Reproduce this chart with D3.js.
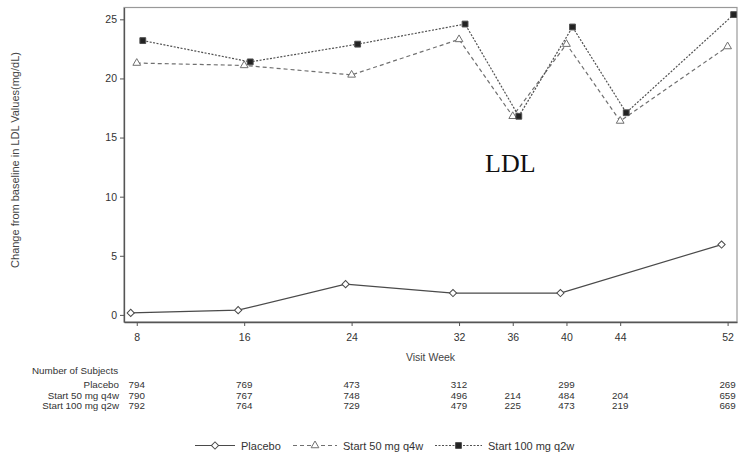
<!doctype html>
<html>
<head>
<meta charset="utf-8">
<script src="https://d3js.org/d3.v7.min.js"></script>
<style>
  body { margin: 0; background: #fff; }
  svg { font-family: "Liberation Sans", Arial, sans-serif; }
  .tick text { fill: #333; font-size: 10.5px; }
  .tick line { stroke: #555; }
</style>
</head>
<body>
<svg width="739" height="457"></svg>
<script>
// visit weeks on the x axis
var weeks = [8, 16, 24, 32, 36, 40, 44, 52];
var yTicks = [0, 5, 10, 15, 20, 25];

// mean change from baseline (mg/dL)
var placeboWeeks = [8, 16, 24, 32, 40, 52];
var placebo = [0.17, 0.4, 2.6, 1.85, 1.85, 5.95];
var start50 = [21.3, 21.1, 20.3, 23.3, 16.8, 22.9, 16.4, 22.7];
var start100 = [23.2, 21.4, 22.9, 24.6, 16.8, 24.35, 17.1, 25.4];

// number of subjects table
var rowLabels = ["Placebo", "Start 50 mg q4w", "Start 100 mg q2w"];
var nPlacebo = [794, 769, 473, 312, null, 299, null, 269];
var n50 = [790, 767, 748, 496, 214, 484, 204, 659];
var n100 = [792, 764, 729, 479, 225, 473, 219, 669];

var svg = d3.select("svg");
var pLeft = 124, pRight = 737, pTop = 7.5, pBottom = 322;

var xScale = d3.scaleLinear().domain([7.05, 52.7]).range([pLeft, pRight]);
var yScale = d3.scaleLinear().domain([-0.6, 26.0]).range([pBottom, pTop]);

// frame
svg.append("rect")
  .attr("x", pLeft).attr("y", pTop)
  .attr("width", pRight - pLeft).attr("height", pBottom - pTop)
  .attr("fill", "none").attr("stroke", "#999").attr("stroke-width", 1.2);

var xAxis = d3.axisBottom(xScale).tickValues(weeks).tickSize(4).tickSizeOuter(0);
var xg = svg.append("g").attr("transform", "translate(0," + pBottom + ")").call(xAxis);
xg.select(".domain").attr("stroke", "#555").attr("stroke-width", 1.3);
xg.selectAll(".tick text").attr("dy", "1.15em");

var yAxis = d3.axisLeft(yScale).tickValues(yTicks).tickSize(4).tickSizeOuter(0);
var yg = svg.append("g").attr("transform", "translate(" + pLeft + ",0)").call(yAxis);
yg.select(".domain").attr("stroke", "#555").attr("stroke-width", 1.3);
yg.selectAll(".tick text").attr("x", -7);

// axis titles
svg.append("text")
  .attr("transform", "translate(18.5,160) rotate(-90)")
  .attr("text-anchor", "middle")
  .style("font-size", "11px").attr("fill", "#444")
  .text("Change from baseline in LDL Values(mg/dL)");

svg.append("text")
  .attr("x", (pLeft + pRight) / 2).attr("y", 361)
  .attr("text-anchor", "middle")
  .style("font-size", "10.5px").attr("fill", "#444")
  .text("Visit Week");

svg.append("text")
  .attr("x", 485).attr("y", 172)
  .style("font-family", "'Liberation Serif', 'Times New Roman', serif")
  .style("font-size", "26px").attr("fill", "#111")
  .text("LDL");

// series drawing
var series = [
  { name: "Placebo", weeks: placeboWeeks, values: placebo, shift: -0.45,
    color: "#4a4a4a", dash: null, symbol: d3.symbolSquare, size: 26, rotate: 45, fill: "#fff" },
  { name: "Start 50 mg q4w", weeks: weeks, values: start50, shift: 0,
    color: "#707070", dash: "4,3", symbol: d3.symbolTriangle, size: 26, rotate: 0, fill: "#fff" },
  { name: "Start 100 mg q2w", weeks: weeks, values: start100, shift: 0.45,
    color: "#505050", dash: "2,1.5", symbol: d3.symbolSquare, size: 34, rotate: 0, fill: "#222" }
];

series.forEach(function(s) {
  var pts = s.weeks.map(function(w, i) { return { w: w + s.shift, v: s.values[i] }; });
  var line = d3.line().x(d => xScale(d.w)).y(d => yScale(d.v));
  svg.append("path")
    .attr("d", line(pts))
    .attr("fill", "none")
    .attr("stroke", s.color)
    .attr("stroke-width", 1.2)
    .attr("stroke-dasharray", s.dash);
  svg.selectAll(null)
    .data(pts)
    .enter()
    .append("path")
    .attr("d", d3.symbol().type(s.symbol).size(s.size))
    .attr("transform", d => "translate(" + xScale(d.w) + "," + yScale(d.v) + ") rotate(" + s.rotate + ")")
    .attr("fill", s.fill)
    .attr("stroke", s.color)
    .attr("stroke-width", 1);
});

// number of subjects
svg.append("text")
  .attr("x", 32).attr("y", 374)
  .style("font-size", "9.8px").attr("fill", "#333")
  .text("Number of Subjects");

var counts = [nPlacebo, n50, n100];
var rowY = [388, 398.5, 409];
rowLabels.forEach(function(lab, r) {
  svg.append("text")
    .attr("x", 119).attr("y", rowY[r])
    .attr("text-anchor", "end")
    .style("font-size", "9.8px").attr("fill", "#333")
    .text(lab);
  svg.selectAll(null)
    .data(weeks.filter((w, i) => counts[r][i] != null))
    .enter()
    .append("text")
    .attr("x", d => xScale(d))
    .attr("y", rowY[r])
    .attr("text-anchor", "middle")
    .style("font-size", "9.8px").attr("fill", "#333")
    .text(d => counts[r][weeks.indexOf(d)]);
});

// legend
var legend = svg.append("g").attr("transform", "translate(0,445.5)");
var legX = [195, 293, 435];
var legW = [40, 44, 47];
series.forEach(function(s, i) {
  var g = legend.append("g").attr("transform", "translate(" + legX[i] + ",0)");
  g.append("line")
    .attr("x1", 0).attr("x2", legW[i])
    .attr("stroke", s.color).attr("stroke-width", 1.2)
    .attr("stroke-dasharray", s.dash);
  g.append("path")
    .attr("d", d3.symbol().type(s.symbol).size(s.size))
    .attr("transform", "translate(" + (legW[i] / 2) + ",0) rotate(" + s.rotate + ")")
    .attr("fill", s.fill).attr("stroke", s.color).attr("stroke-width", 1);
  g.append("text")
    .attr("x", legW[i] + 6).attr("y", 4)
    .style("font-size", "11px").attr("fill", "#333")
    .text(s.name);
});
</script>
</body>
</html>
